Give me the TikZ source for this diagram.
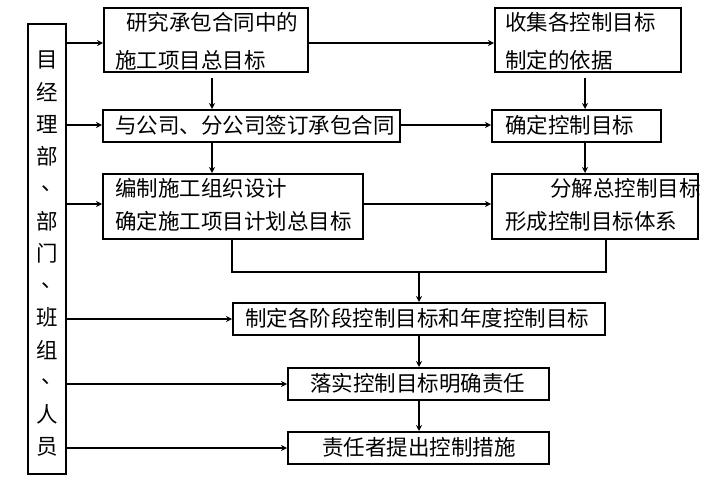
\documentclass[tikz,border=0pt]{standalone}
\usepackage{fontspec}
\newfontfamily\cjk{Noto Sans CJK SC}
\usetikzlibrary{arrows.meta}
\begin{document}
\begin{tikzpicture}[x=1pt,y=-1pt,
 box/.style={draw, line width=2pt, inner sep=0pt, anchor=north west},
 txt/.style={anchor=west, inner sep=0pt, font=\cjk\fontsize{21.5}{24}\selectfont},
 vch/.style={inner sep=0pt, font=\cjk\fontsize{21.5}{24}\selectfont},
 arr/.style={line width=1.2pt, -{Stealth[length=6pt,width=6pt]}},
 ln/.style={line width=1.2pt}]
\useasboundingbox (0,0) rectangle (717,481);
% boxes
\node[box, minimum width=38pt, minimum height=450pt] (L) at (27,23) {};
\node[box, minimum width=204pt, minimum height=64pt] (b1) at (103,7) {};
\node[box, minimum width=186pt, minimum height=64pt] (b2) at (494,7) {};
\node[box, minimum width=297pt, minimum height=32pt] (b3) at (102,109) {};
\node[box, minimum width=169pt, minimum height=32pt] (b4) at (491,109) {};
\node[box, minimum width=260pt, minimum height=65pt] (b5) at (102,173) {};
\node[box, minimum width=206pt, minimum height=65pt] (b6) at (491,173) {};
\node[box, minimum width=372pt, minimum height=32pt] (b7) at (232,302) {};
\node[box, minimum width=261pt, minimum height=32pt] (b8) at (287,367) {};
\node[box, minimum width=261pt, minimum height=32pt] (b9) at (287,431) {};
% texts
\node[txt] (t1a) at (126,22) {研究承包合同中的};
\node[txt] (t1b) at (115,60) {施工项目总目标};
\node[txt] (t2a) at (505,22) {收集各控制目标};
\node[txt] (t2b) at (505,60) {制定的依据};
\node[txt] (t3) at (115,125) {与公司、分公司签订承包合同};
\node[txt] (t4) at (505,125) {确定控制目标};
\node[txt] (t5a) at (115,188) {编制施工组织设计};
\node[txt] (t5b) at (115,221) {确定施工项目计划总目标};
\node[txt] (t6a) at (550,188) {分解总控制目标};
\node[txt] (t6b) at (505,221) {形成控制目标体系};
\node[txt] (t7) at (245,318) {制定各阶段控制目标和年度控制目标};
\node[txt] (t8) at (310,383) {落实控制目标明确责任};
\node[txt] (t9) at (322,447) {责任者提出控制措施};
% vertical text
\foreach \c/\dx [count=\i] in {目/0,经/0,理/0,部/0,、/5,部/0,门/0,、/5,班/0,组/0,、/5,人/0,员/0}{
  \node[vch] (v\i) at ({47+\dx},{60+32.2*(\i-1)}) {\c};
}
% reference coordinates
\coordinate (r1) at (0,43);
\coordinate (r3) at (0,125);
\coordinate (r5) at (0,204);
\coordinate (c1) at (212,0);
\coordinate (c2) at (585,0);
% left arrows
\draw[arr] (L.east |- r1) -- (b1.west |- r1);
\draw[arr] (L.east |- r3) -- (b3.west |- r3);
\draw[arr] (L.east |- r5) -- (b5.west |- r5);
\draw[arr] (L.east |- b7.west) -- (b7.west);
\draw[arr] (L.east |- b8.west) -- (b8.west);
\draw[arr] (L.east |- b9.west) -- (b9.west);
% horizontal arrows
\draw[arr] (b1.east |- r1) -- (b2.west |- r1);
\draw[arr] (b3.east |- r3) -- (b4.west |- r3);
\draw[arr] (b5.east |- r5) -- (b6.west |- r5);
% vertical arrows
\draw[arr, shorten <=5pt] (b1.south -| c1) -- (b3.north -| c1);
\draw[arr] (b3.south -| c1) -- (b5.north -| c1);
\draw[arr, shorten <=5pt] (b2.south -| c2) -- (b4.north -| c2);
\draw[arr] (b4.south -| c2) -- (b6.north -| c2);
% merge
\draw[ln] (b5.south -| b7.west) -- ++(0,32) coordinate (m1) -| (b6.south -| b7.east);
\coordinate (m) at (m1 -| b7.north);
\draw[arr] (m) -- (b7.north);
\draw[arr] (b7.south) -- (b8.north -| b7.south);
\draw[arr] (b8.south -| b7.south) -- (b9.north -| b7.south);
\end{tikzpicture}
\end{document}
